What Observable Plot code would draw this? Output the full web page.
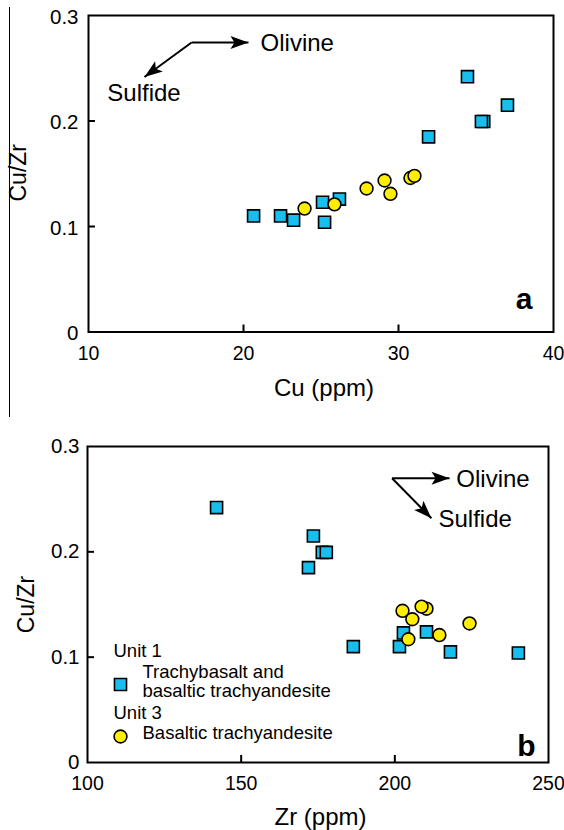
<!DOCTYPE html>
<html>
<head>
<meta charset="utf-8">
<script src="https://cdn.jsdelivr.net/npm/d3@7"></script>
<script src="https://cdn.jsdelivr.net/npm/@observablehq/plot@0.6"></script>
<style>
  html, body { margin: 0; padding: 0; background: white; }
  #wrap { position: relative; width: 564px; height: 830px; overflow: hidden; }
  #wrap svg { position: absolute; left: 0; }
  #edge { position: absolute; left: 8.5px; top: 7px; width: 1.5px; height: 410px; background: black; }
</style>
</head>
<body>
<div id="wrap"><div id="edge"></div></div>
<script>
// ---------- Panel a: Cu (ppm) vs Cu/Zr ----------
const cuTicks = [10, 20, 30, 40];
const cuInnerTicks = [20, 30];
const ratioTicks = [0, 0.1, 0.2, 0.3];
const ratioInnerTicks = [0.1, 0.2];

// Unit 1 squares (Trachybasalt and basaltic trachyandesite)
const cuUnit1 = [20.65, 22.39, 23.23, 25.10, 25.23, 26.19, 31.94, 34.45, 35.5, 35.35, 37.03];
const cuZrUnit1A = [0.110, 0.110, 0.106, 0.123, 0.104, 0.126, 0.185, 0.242, 0.1995, 0.1995, 0.215];
// Unit 3 circles (Basaltic trachyandesite)
const cuUnit3 = [23.94, 25.87, 27.94, 29.10, 29.48, 30.77, 31.03];
const cuZrUnit3A = [0.117, 0.121, 0.136, 0.1436, 0.131, 0.146, 0.148];

// annotation arrows (data units) panel a
const arrowA = { x1: [16.65, 16.65], y1: [0.2744, 0.2744], x2: [20.32, 13.61], y2: [0.2744, 0.2417] };
const olivineA = { x: 21.1, y: 0.2735 };
const sulfideA = { x: 13.58, y: 0.2261 };

// ---------- Panel b: Zr (ppm) vs Cu/Zr ----------
const zrTicks = [100, 150, 200, 250];
const zrInnerTicks = [150, 200];
const zrUnit1 = [142.0, 173.5, 176.4, 177.7, 171.9, 186.5, 201.5, 202.8, 210.3, 218.1, 240.2];
const cuZrUnit1B = [0.242, 0.215, 0.1995, 0.1995, 0.185, 0.110, 0.110, 0.123, 0.124, 0.105, 0.104];
const zrUnit3 = [202.5, 210.3, 208.7, 205.7, 204.4, 214.5, 224.3];
const cuZrUnit3B = [0.144, 0.146, 0.148, 0.136, 0.117, 0.121, 0.132];

const arrowB = { x1: [199.1, 199.1], y1: [0.2699, 0.2699], x2: [217.8, 211.9], y2: [0.2699, 0.2319] };
const olivineB = { x: 220.0, y: 0.2687 };
const sulfideB = { x: 214.2, y: 0.231 };

const legendLabels = ["Unit 1", "Trachybasalt and", "basaltic trachyandesite", "Unit 3", "Basaltic trachyandesite"];

const FONT = '"Liberation Sans", Arial, Helvetica, sans-serif';
const SQ_FILL = "#18BEEE";
const CI_FILL = "#FFEE00";

// filled arrowheads at the end of each link path
function addArrowheads(svg) {
  const ns = "http://www.w3.org/2000/svg";
  svg.querySelectorAll('g[aria-label="link"]').forEach(g => {
    Array.from(g.querySelectorAll("path")).forEach(p => {
      const n = (p.getAttribute("d") || "").match(/-?\d*\.?\d+(e-?\d+)?/g);
      if (!n || n.length < 4) return;
      const x1 = +n[0], y1 = +n[1], x2 = +n[n.length - 2], y2 = +n[n.length - 1];
      const a = Math.atan2(y2 - y1, x2 - x1);
      const L = 18, W = 6.5, N = 4;
      const ux = Math.cos(a), uy = Math.sin(a), px = -uy, py = ux;
      const bx = x2 - ux * L, by = y2 - uy * L;
      const nx = x2 - ux * (L - N), ny = y2 - uy * (L - N);
      const head = document.createElementNS(ns, "path");
      head.setAttribute("d", `M${x2},${y2}L${bx + px * W},${by + py * W}L${nx},${ny}L${bx - px * W},${by - py * W}Z`);
      head.setAttribute("fill", "black");
      head.setAttribute("stroke", "none");
      p.parentNode.appendChild(head);
    });
  });
}

function txt(label, x, y, anchor) {
  return Plot.text([label], { x: [x], y: [y], text: d => d, textAnchor: anchor, lineAnchor: "middle", fontSize: 24 });
}

function panel(cfg) {
  const pw = 564 - cfg.mL - cfg.mR;
  const ph = cfg.H - cfg.mT - cfg.mB;
  const marks = [
    Plot.ruleX(cfg.xInner, { insetTop: ph - 7, stroke: "black", strokeWidth: 2 }),
    Plot.ruleY(ratioInnerTicks, { insetRight: pw - 7, stroke: "black", strokeWidth: 2 }),
    Plot.frame({ stroke: "black", strokeWidth: 2 }),
    Plot.axisX({ ticks: cfg.xTicks, tickSize: 0, tickPadding: cfg.xPad, tickFormat: d => String(d), label: null, fontSize: 19.5 }),
    Plot.axisY({ ticks: ratioTicks, tickSize: 0, tickPadding: cfg.yPad, tickFormat: d => String(d), label: null, fontSize: 20.5, dy: cfg.yTickDy }),
    Plot.text(["Cu/Zr"], { frameAnchor: "left", rotate: -90, textAnchor: "middle", lineAnchor: "top", dx: cfg.yLabDx, dy: cfg.yLabDy, fontSize: 23 }),
    Plot.text([cfg.xLabel], { frameAnchor: "bottom", textAnchor: "middle", lineAnchor: "bottom", dx: cfg.xLabDx, dy: cfg.xLabDy, fontSize: 24 }),
    Plot.link(cfg.arrow.x1, { x1: cfg.arrow.x1, y1: cfg.arrow.y1, x2: cfg.arrow.x2, y2: cfg.arrow.y2, stroke: "black", strokeWidth: 2, curve: "linear" }),
    Plot.dot(cfg.sqX, { x: cfg.sqX, y: cfg.sqY, symbol: "square", r: 6.8, fill: SQ_FILL, stroke: "black", strokeWidth: 1.6 }),
    Plot.dot(cfg.ciX, { x: cfg.ciX, y: cfg.ciY, symbol: "circle", r: 6.4, fill: CI_FILL, stroke: "black", strokeWidth: 1.6 }),
    Plot.text([cfg.tag], { frameAnchor: "bottom-right", textAnchor: "end", lineAnchor: "bottom", dx: cfg.tagDx, dy: cfg.tagDy, fontSize: 30, fontWeight: "bold" })
  ].concat(cfg.extra || []);
  const svg = Plot.plot({
    width: 564, height: cfg.H,
    marginTop: cfg.mT, marginRight: cfg.mR, marginBottom: cfg.mB, marginLeft: cfg.mL,
    x: { domain: cfg.xDomain },
    y: { domain: [0, 0.3] },
    style: { fontFamily: FONT, fontSize: "20px", color: "black", background: "transparent", overflow: "visible" },
    marks
  });
  svg.style.top = cfg.top + "px";
  addArrowheads(svg);
  return svg;
}

const wrap = document.getElementById("wrap");

const svgA = panel({
  top: 0, H: 400, mT: 15, mR: 11, mB: 68.5, mL: 88,
  xDomain: [10, 40], xTicks: cuTicks, xInner: cuInnerTicks, xPad: 14, yPad: 10, yTickDy: 1.5,
  sqX: cuUnit1, sqY: cuZrUnit1A, ciX: cuUnit3, ciY: cuZrUnit3A,
  arrow: arrowA,
  xLabel: "Cu (ppm)", xLabDx: 3, xLabDy: 63.5, yLabDx: -79, yLabDy: -1,
  tag: "a", tagDx: -21, tagDy: -23.5,
  extra: [
    txt("Olivine", olivineA.x, olivineA.y, "start"),
    txt("Sulfide", sulfideA.x, sulfideA.y, "middle")
  ]
});

const svgB = panel({
  top: 400, H: 430, mT: 46, mR: 16, mB: 68, mL: 87,
  xDomain: [100, 250], xTicks: zrTicks, xInner: zrInnerTicks, xPad: 14, yPad: 8, yTickDy: 0,
  sqX: zrUnit1, sqY: cuZrUnit1B, ciX: zrUnit3, ciY: cuZrUnit3B,
  arrow: arrowB,
  xLabel: "Zr (ppm)", xLabDx: 2.5, xLabDy: 62, yLabDx: -70, yLabDy: 0,
  tag: "b", tagDx: -13, tagDy: -7,
  extra: [
    txt("Olivine", olivineB.x, olivineB.y, "start"),
    txt("Sulfide", sulfideB.x, sulfideB.y, "start"),
    Plot.text([legendLabels[0]], { frameAnchor: "bottom-left", textAnchor: "start", lineAnchor: "middle", dx: 26, dy: -111, fontSize: 18.5 }),
    Plot.text([legendLabels[1]], { frameAnchor: "bottom-left", textAnchor: "start", lineAnchor: "middle", dx: 55, dy: -90, fontSize: 18.5 }),
    Plot.text([legendLabels[2]], { frameAnchor: "bottom-left", textAnchor: "start", lineAnchor: "middle", dx: 55, dy: -71, fontSize: 18.5 }),
    Plot.text([legendLabels[3]], { frameAnchor: "bottom-left", textAnchor: "start", lineAnchor: "middle", dx: 26, dy: -49, fontSize: 18.5 }),
    Plot.text([legendLabels[4]], { frameAnchor: "bottom-left", textAnchor: "start", lineAnchor: "middle", dx: 55, dy: -29, fontSize: 18.5 }),
    Plot.dot([0], { frameAnchor: "bottom-left", dx: 33, dy: -78, symbol: "square", r: 6.8, fill: SQ_FILL, stroke: "black", strokeWidth: 1.6 }),
    Plot.dot([0], { frameAnchor: "bottom-left", dx: 33, dy: -26, symbol: "circle", r: 6.4, fill: CI_FILL, stroke: "black", strokeWidth: 1.6 })
  ]
});

wrap.appendChild(svgA);
wrap.appendChild(svgB);
</script>
</body>
</html>
